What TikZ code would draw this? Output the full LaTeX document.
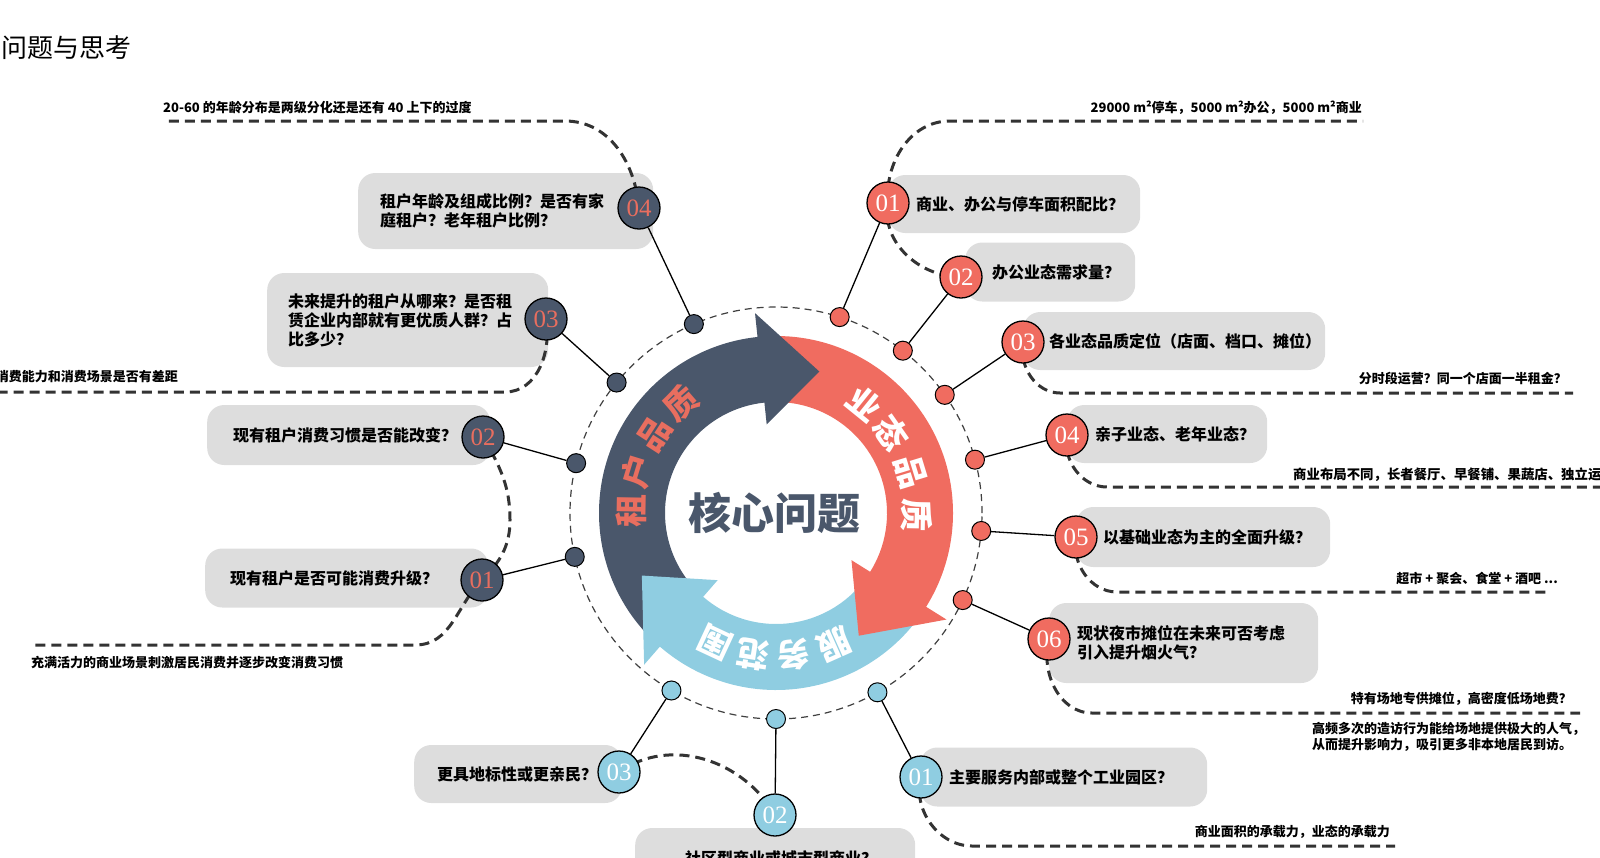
\documentclass[tikz,border=0pt]{standalone}
\usepackage{fontspec}
\setmainfont{Liberation Serif}
\newfontfamily\cjk{Noto Sans CJK SC}
\newfontfamily\numfont{Liberation Serif}

\definecolor{slate}{RGB}{74,87,107}
\definecolor{coral}{RGB}{240,108,96}
\definecolor{numcoral}{RGB}{232,110,95}
\definecolor{sky}{RGB}{143,205,225}
\definecolor{bubblegray}{RGB}{221,221,221}

\pgfdeclarelayer{back}
\pgfsetlayers{back,main}

\tikzstyle{bubble}=[fill=bubblegray, rounded corners=17pt, anchor=west, align=left, inner ysep=0pt, font=\cjk\bfseries\fontsize{16}{19}\selectfont]
\tikzstyle{numdark}=[circle, draw=black, line width=1.3pt, fill=slate, minimum size=42pt, inner sep=0pt, text=numcoral, font=\numfont\fontsize{25}{25}\selectfont]
\tikzstyle{numred}=[numdark, fill=coral, text=white]
\tikzstyle{numsky}=[numdark, fill=sky, text=white]
\tikzstyle{dotdark}=[circle, draw=black, line width=1pt, fill=slate, minimum size=19pt, inner sep=0pt]
\tikzstyle{dotred}=[dotdark, fill=coral]
\tikzstyle{dotsky}=[dotdark, fill=sky]
\tikzstyle{spoke}=[black, line width=1.3pt]
\tikzstyle{noteline}=[black!80, line width=3pt, dash pattern=on 10pt off 6pt]
\tikzstyle{note}=[font=\cjk\bfseries\fontsize{13}{16}\selectfont, inner sep=0pt]
\tikzstyle{ringline}=[black!75, line width=1.2pt, dash pattern=on 7pt off 5pt]
\tikzstyle{arctext}=[font=\cjk\bfseries\fontsize{33}{33}\selectfont, inner sep=0pt]

% band of the ring, from angle #2 clockwise to #3
\newcommand{\ringband}[3]{
  \fill[#1] (#2:177pt) arc[start angle=#2, end angle=#3, radius=177pt]
    -- (#3:111pt) arc[start angle=#3, end angle=#2, radius=111pt] -- cycle;
}
% head of a ring arrow, base at #2, tip at #3
\newcommand{\ringhead}[3]{
  \fill[#1] (#2:201pt) -- (#3:148pt) -- (#2:89pt) -- cycle;
}

\begin{document}
\begin{tikzpicture}[x=1pt, y=-1pt]
  \useasboundingbox (0,0) rectangle (1600,857);
  \node[anchor=west, font=\cjk\fontsize{26}{26}\selectfont] (title) at (-2,48) {问题与思考};

  % core ring
  \begin{scope}[shift={(776,513)}, y=1pt]
    \draw[ringline] (0,0) circle[radius=206pt];
    \ringband{slate}{226}{93}
    \ringband{coral}{92}{-35}
    \ringband{sky}{-38}{-134}
    \ringhead{slate}{96}{73}
    \ringhead{coral}{-32}{-56}
    \ringhead{sky}{229}{205}
    \foreach \c/\a [count=\i] in {租/179,户/163,品/147,质/131}
      \node[arctext, text=numcoral, rotate=\a-90] (qd\i) at (\a:145pt) {\c};
    \foreach \c/\a [count=\i] in {业/51,态/35,品/17,质/-1}
      \node[arctext, text=white, rotate=\a-90] (qr\i) at (\a:141pt) {\c};
    \foreach \c/\a [count=\i] in {服/-66,务/-83,范/-99,围/-115}
      \node[arctext, text=white, rotate=\a-90] (qu\i) at (\a:143pt) {\c};
    \node[font=\cjk\bfseries\fontsize{43}{43}\selectfont, text=slate] (core) at (-2,0) {核心问题};
    \foreach \n/\a in {1/192.3,2/166,3/140.7,4/113.5}
      \node[dotdark] (dd\n) at (\a:206pt) {};
    \foreach \n/\a in {1/72,2/52,3/35,4/15,5/-5,6/-25}
      \node[dotred] (dr\n) at (\a:206pt) {};
    \foreach \n/\a in {1/-60.5,2/-90,3/-120.5}
      \node[dotsky] (du\n) at (\a:206pt) {};
  \end{scope}

  % numbered circles
  \node[numdark] (cd1) at (482,580) {01};
  \node[numdark] (cd2) at (483,437) {02};
  \node[numdark] (cd3) at (546,319) {03};
  \node[numdark] (cd4) at (639,208) {04};
  \node[numred] (cr1) at (888,203) {01};
  \node[numred] (cr2) at (961,277) {02};
  \node[numred] (cr3) at (1023,342) {03};
  \node[numred] (cr4) at (1067,435) {04};
  \node[numred] (cr5) at (1076,537) {05};
  \node[numred] (cr6) at (1049,639) {06};
  \node[numsky] (cu1) at (921,777) {01};
  \node[numsky] (cu2) at (775,815) {02};
  \node[numsky] (cu3) at (619,772) {03};

  \foreach \n in {1,...,4} \draw[spoke] (dd\n) -- (cd\n);
  \foreach \n in {1,...,6} \draw[spoke] (dr\n) -- (cr\n);
  \foreach \n in {1,...,3} \draw[spoke] (du\n) -- (cu\n);

  \begin{pgfonlayer}{back}
    % question bubbles
    \node[bubble, minimum width=283pt, minimum height=59pt, text width=233pt, inner xsep=25pt] (bd1) at (205,578) {现有租户是否可能消费升级？};
    \node[bubble, minimum width=283pt, minimum height=60pt, text width=231pt, inner xsep=26pt] (bd2) at (207,435) {现有租户消费习惯是否能改变？};
    \node[bubble, minimum width=281pt, minimum height=94pt, text width=239pt, inner xsep=21pt] (bd3) at (267,320) {未来提升的租户从哪来？是否租\\赁企业内部就有更优质人群？占\\比多少？};
    \node[bubble, minimum width=295pt, minimum height=76pt, text width=251pt, inner xsep=22pt] (bd4) at (358,211) {租户年龄及组成比例？是否有家\\庭租户？老年租户比例？};
    \node[bubble, minimum width=252pt, minimum height=58pt, text width=196pt, inner xsep=28pt] (br1) at (888,204) {商业、办公与停车面积配比？};
    \node[bubble, minimum width=170pt, minimum height=59pt, text width=116pt, inner xsep=27pt] (br2) at (965,272) {办公业态需求量？};
    \node[bubble, minimum width=302pt, minimum height=58pt, text width=250pt, inner xsep=26pt] (br3) at (1023,341) {各业态品质定位（店面、档口、摊位）};
    \node[bubble, minimum width=200pt, minimum height=58pt, text width=144pt, inner xsep=28pt] (br4) at (1067,434) {亲子业态、老年业态？};
    \node[bubble, minimum width=254pt, minimum height=60pt, text width=200pt, inner xsep=27pt] (br5) at (1076,537) {以基础业态为主的全面升级？};
    \node[bubble, minimum width=269pt, minimum height=80pt, text width=213pt, inner xsep=28pt] (br6) at (1049,643) {现状夜市摊位在未来可否考虑\\引入提升烟火气？};
    \node[bubble, minimum width=287pt, minimum height=59pt, text width=229pt, inner xsep=29pt] (bu1) at (920,777) {主要服务内部或整个工业园区？};
    \node[bubble, minimum width=280pt, minimum height=60pt, text width=180pt, inner xsep=50pt] (bu2) at (635,858) {社区型商业或城市型商业？};
    \node[bubble, minimum width=208pt, minimum height=58pt, text width=162pt, inner xsep=23pt] (bu3) at (414,774) {更具地标性或更亲民？};

    % dashed notes
    \draw[noteline] (cd4.center) to[out=95,in=0] (565,121) -- (163,121);
    \draw[noteline] (cd3.center) to[out=-80,in=0] (505,392) -- (-5,392);
    \draw[noteline] (cd2.center) to[out=-60,in=90] (510,520) to[out=-90,in=45] (cd1.center)
      to[out=225,in=0] (415,645) -- (30,645);
    \draw[noteline] (cr1.center) to[out=95,in=180] (950,121) -- (1363,121);
    \draw[noteline] (cr1.center) to[out=-100,in=180] (cr2.center);
    \draw[noteline] (cr3.center) to[out=-100,in=180] (1060,393) -- (1573,393);
    \draw[noteline] (cr4.center) to[out=-100,in=180] (1107,487) -- (1610,487);
    \draw[noteline] (cr5.center) to[out=-100,in=180] (1117,592) -- (1550,592);
    \draw[noteline] (cr6.center) to[out=-105,in=180] (1092,713) -- (1580,713);
    \draw[noteline] (cu1.center) to[out=-105,in=180] (972,846) -- (1395,846);
    \draw[noteline] (cu3.center) to[out=35,in=120] (cu2.center);
  \end{pgfonlayer}

  % note texts
  \node[note, anchor=west] (nd4) at (163,108) {20-60 的年龄分布是两级分化还是还有 40 上下的过度};
  \node[note, anchor=east] (nd3) at (178,377) {消费能力和消费场景是否有差距};
  \node[note, anchor=west] (nd1) at (31,663) {充满活力的商业场景刺激居民消费并逐步改变消费习惯};
  \node[note, anchor=east] (nr1) at (1362,108) {29000 m²停车，5000 m²办公，5000 m²商业};
  \node[note, anchor=east] (nr3) at (1567,379) {分时段运营？同一个店面一半租金？};
  \node[note, anchor=west, font=\cjk\bfseries\fontsize{13.4}{16}\selectfont] (nr4) at (1293,475) {商业布局不同，长者餐厅、早餐铺、果蔬店、独立运};
  \node[note, anchor=east] (nr5) at (1558,578) {超市 + 聚会、食堂 + 酒吧 ...};
  \node[note, anchor=east] (nr6) at (1572,699) {特有场地专供摊位，高密度低场地费？};
  \node[note, anchor=west, align=left] (nr6b) at (1312,737) {高频多次的造访行为能给场地提供极大的人气，\\从而提升影响力，吸引更多非本地居民到访。};
  \node[note, anchor=east] (nu1) at (1390,832) {商业面积的承载力，业态的承载力};
\end{tikzpicture}
\end{document}
